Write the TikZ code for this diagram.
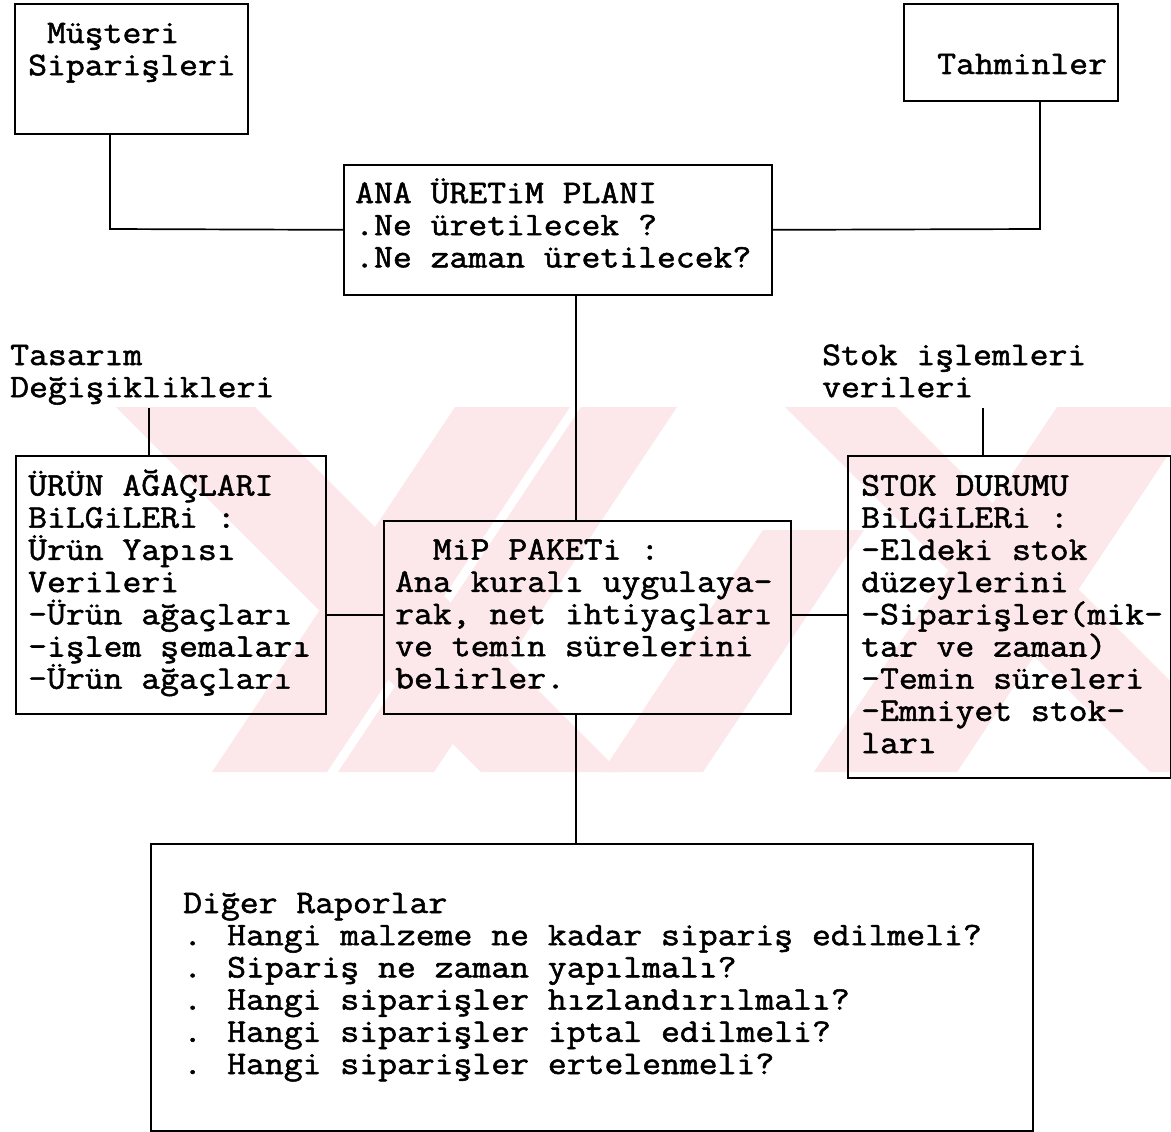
\documentclass[tikz,border=0pt]{standalone}
\usepackage{fontspec}
\newfontfamily\tw[FakeBold=1.6,FakeStretch=1.11]{Latin Modern Mono}
\newcommand\mono{\tw\fontsize{33}{32.2}\selectfont}
% a block of lines; its reference point is the baseline of the first line
\newcommand\blk[1]{\vtop{\baselineskip=32.2pt\lineskiplimit=-60pt\lineskip=0pt #1}}
\definecolor{wmpink}{RGB}{252,232,234}

\begin{document}
\begin{tikzpicture}[x=1pt,y=-1pt]
\tikzset{
  box/.style={draw, line width=1.7pt, rectangle, inner sep=0pt, anchor=north west},
  txt/.style={anchor=base west, inner sep=0pt, font=\mono},
  wire/.style={line width=1.7pt},
  wm/.style={fill=wmpink}
}
\useasboundingbox (0,0) rectangle (1171,1132);
\fill[white] (0,0) rectangle (1171,1132);

% faint diagonal background band
\begin{scope}
  \clip (0,407) rectangle (1171,772);
  \fill[wm] (116,407) -- (255,407) -- (620,772) -- (481,772) -- cycle;
  \fill[wm] (785,407) -- (896,407) -- (1261,772) -- (1150,772) -- cycle;
  \fill[wm] (455,407) -- (570,407) -- (327,772) -- (212,772) -- cycle;
  \fill[wm] (581,407) -- (677,407) -- (434,772) -- (338,772) -- cycle;
  \fill[wm] (1057,407) -- (1200,407) -- (957,772) -- (814,772) -- cycle;
  \fill[wm] (763,530) -- (864,530) -- (703,772) -- (602,772) -- cycle;
\end{scope}

% boxes
\node[box, minimum width=233pt, minimum height=130pt] (mus) at (14,3) {};
\node[box, minimum width=214pt, minimum height=97pt] (tah) at (903,3) {};
\node[box, minimum width=428pt, minimum height=130pt] (ana) at (343,164) {};
\node[box, minimum width=310pt, minimum height=258pt] (urun) at (15,455) {};
\node[box, minimum width=407pt, minimum height=193pt] (mip) at (383,520) {};
\node[box, minimum width=323pt, minimum height=322pt] (stok) at (847,455) {};
\node[box, minimum width=882pt, minimum height=287pt] (rap) at (150,843) {};

% texts
\node[txt] (mus-t) at (28,43) {\blk{\hbox{~Müşteri}\hbox{Siparişleri}}};
\node[txt] (tah-t) at (937,74) {Tahminler};
\node[txt] (ana-t) at (355,203) {\blk{\hbox{ANA ÜRETiM PLANI}\hbox{.Ne üretilecek ?}\hbox{.Ne zaman üretilecek?}}};
\node[txt] (tas) at (10,365) {\blk{\hbox{Tasarım}\hbox{Değişiklikleri}}};
\node[txt] (sil) at (822,365) {\blk{\hbox{Stok işlemleri}\hbox{verileri}}};
\node[txt] (urun-t) at (28,495.5) {\blk{\hbox{ÜRÜN AĞAÇLARI}\hbox{BiLGiLERi :}\hbox{Ürün Yapısı}\hbox{Verileri}\hbox{-Ürün ağaçları}\hbox{-işlem şemaları}\hbox{-Ürün ağaçları}}};
\node[txt] (mip-t) at (395,559.6) {\blk{\hbox{~~MiP PAKETi :}\hbox{Ana kuralı uygulaya-}\hbox{rak, net ihtiyaçları}\hbox{ve temin sürelerini}\hbox{belirler.}}};
\node[txt] (stok-t) at (861,495.5) {\blk{\hbox{STOK DURUMU}\hbox{BiLGiLERi :}\hbox{-Eldeki stok}\hbox{düzeylerini}\hbox{-Siparişler(mik-}\hbox{tar ve zaman)}\hbox{-Temin süreleri}\hbox{-Emniyet stok-}\hbox{ları}}};
\node[txt] (rap-t) at (183,913) {\blk{\hbox{Diğer Raporlar}\hbox{. Hangi malzeme ne kadar sipariş edilmeli?}\hbox{. Sipariş ne zaman yapılmalı?}\hbox{. Hangi siparişler hızlandırılmalı?}\hbox{. Hangi siparişler iptal edilmeli?}\hbox{. Hangi siparişler ertelenmeli?}}};

% bend points and line positions
\coordinate (b1) at (110,229);
\coordinate (b2) at (1040,229);
\coordinate (vx) at (576,0);
\coordinate (hy) at (0,615);
\coordinate (tasend) at (149,408);
\coordinate (silend) at (983,408);

% connectors
\draw[wire] (b1 |- mus.south) -- (b1) -- (ana.west);
\draw[wire] (ana.east) -- (b2) -- (b2 |- tah.south);
\draw[wire] (ana.south -| vx) -- (mip.north -| vx);
\draw[wire] (mip.south -| vx) -- (rap.north -| vx);
\draw[wire] (urun.east |- hy) -- (mip.west |- hy);
\draw[wire] (mip.east |- hy) -- (stok.west |- hy);
\draw[wire] (tasend) -- (tasend |- urun.north);
\draw[wire] (silend) -- (silend |- stok.north);
\end{tikzpicture}
\end{document}
